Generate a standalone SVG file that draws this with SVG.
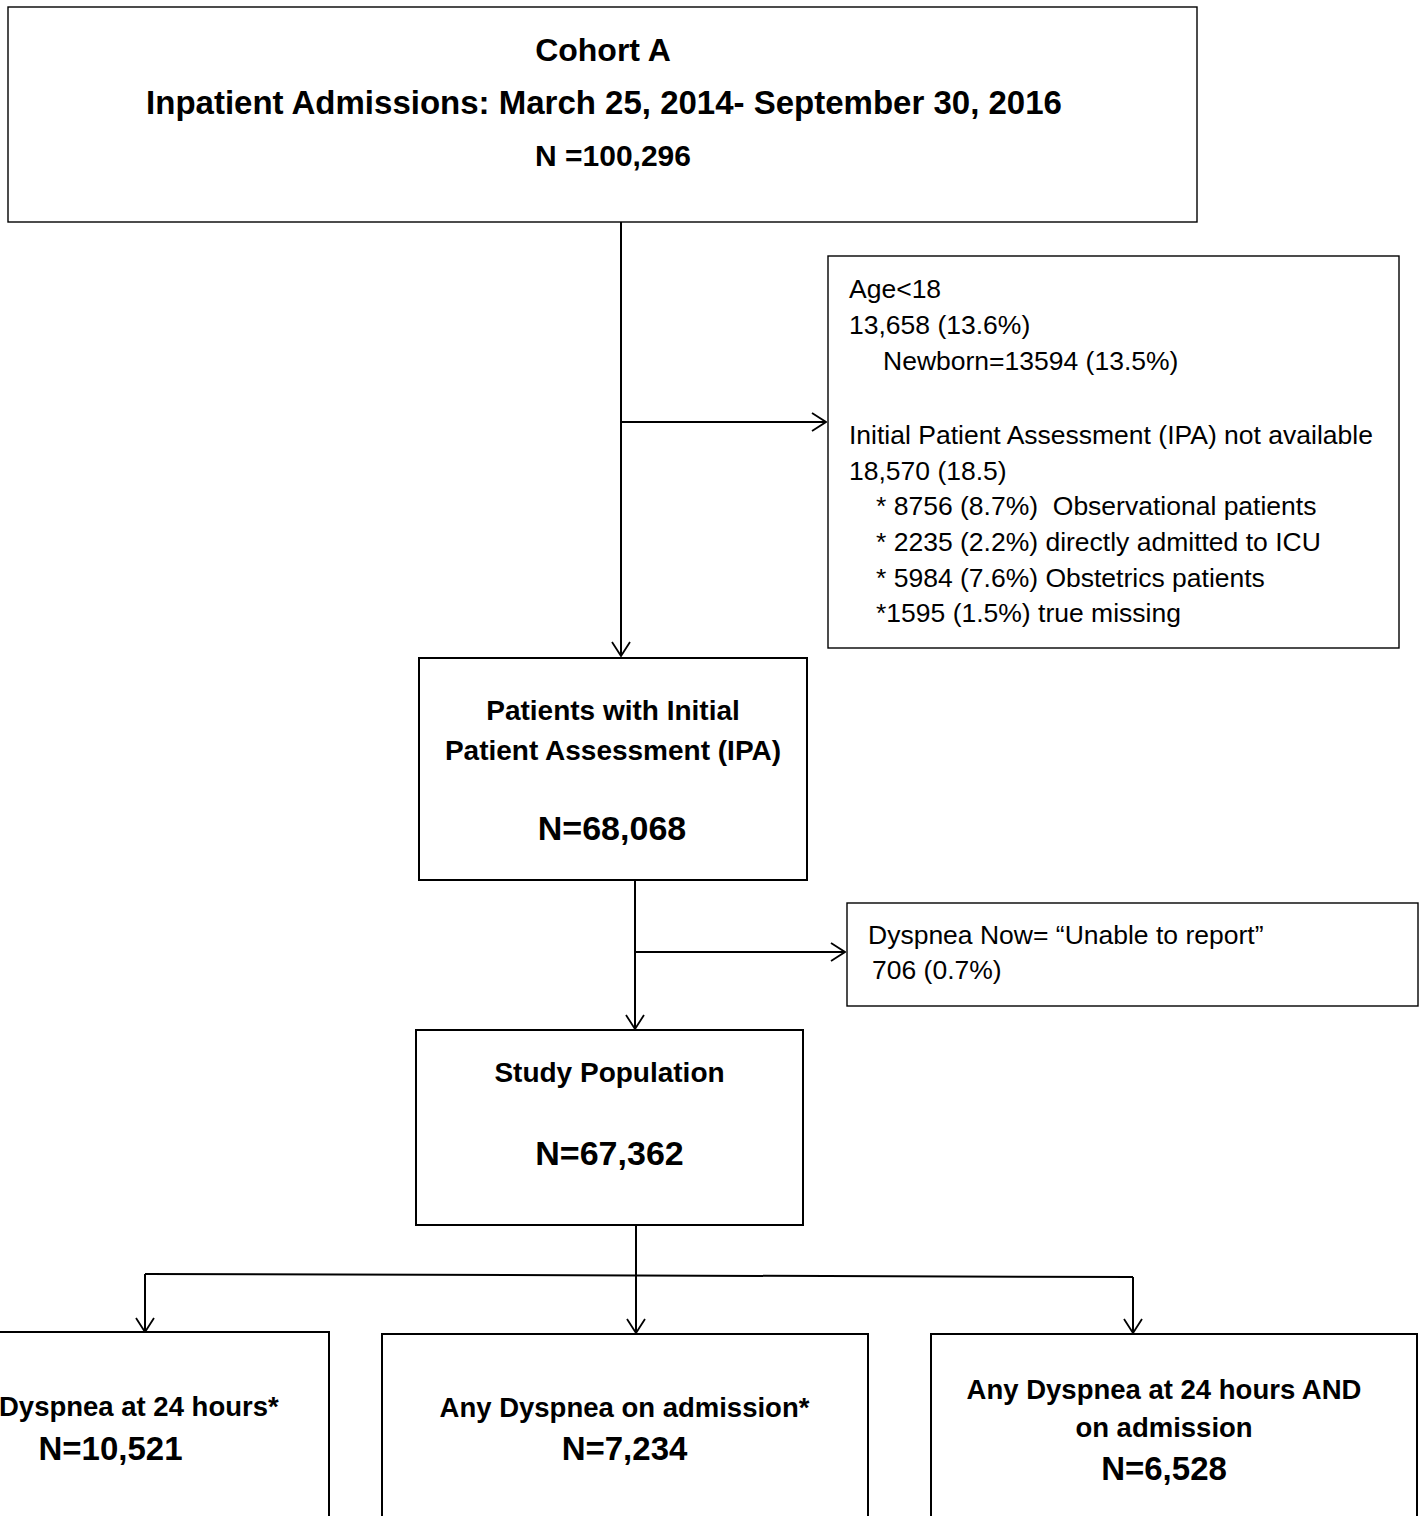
<svg xmlns="http://www.w3.org/2000/svg" width="1423" height="1516" viewBox="0 0 1423 1516">
<style>
.box{fill:#fff;stroke:#000;stroke-width:2}
.thin{stroke-width:1.4}
.b{font-family:"Liberation Sans",Arial,sans-serif;font-weight:bold;fill:#000}
.r{font-family:"Liberation Sans",Arial,sans-serif;fill:#000;font-size:26.5px}
.c{text-anchor:middle}
.ln{fill:none;stroke:#000;stroke-width:2}
</style>
<defs>
<marker id="arr" viewBox="0 0 16 20" refX="15" refY="10" markerWidth="16" markerHeight="20" markerUnits="userSpaceOnUse" orient="auto">
<path d="M1,1 L15,10 L1,19" fill="none" stroke="#000" stroke-width="1.8"/>
</marker>
</defs>
<rect width="1423" height="1516" fill="#fff"/>
<g id="connectors">
<path class="ln" d="M621,222 L621,656" marker-end="url(#arr)"/>
<path class="ln" d="M621,422 L826,422" marker-end="url(#arr)"/>
<path class="ln" d="M635,880 L635,1029" marker-end="url(#arr)"/>
<path class="ln" d="M635,952 L845,952" marker-end="url(#arr)"/>
<path class="ln" d="M636,1225 L636,1333" marker-end="url(#arr)"/>
<path class="ln" d="M145,1274 L1133,1277"/>
<path class="ln" d="M145,1274 L145,1332" marker-end="url(#arr)"/>
<path class="ln" d="M1133,1277 L1133,1333" marker-end="url(#arr)"/>
</g>
<g id="cohortA">
<rect class="box thin" x="8" y="7" width="1189" height="215"/>
<text class="b c" x="603" y="61" font-size="32">Cohort A</text>
<text class="b c" x="604" y="114" font-size="33">Inpatient Admissions: March 25, 2014- September 30, 2016</text>
<text class="b c" x="613" y="166" font-size="30">N =100,296</text>
</g>
<g id="exclusions1">
<rect class="box thin" x="828" y="256" width="571" height="392"/>
<text class="r" x="849" y="298">Age&lt;18</text>
<text class="r" x="849" y="334">13,658 (13.6%)</text>
<text class="r" x="883" y="370">Newborn=13594 (13.5%)</text>
<text class="r" x="849" y="444">Initial Patient Assessment (IPA) not available</text>
<text class="r" x="849" y="480">18,570 (18.5)</text>
<text class="r" x="876" y="515" xml:space="preserve">* 8756 (8.7%)  Observational patients</text>
<text class="r" x="876" y="551">* 2235 (2.2%) directly admitted to ICU</text>
<text class="r" x="876" y="587">* 5984 (7.6%) Obstetrics patients</text>
<text class="r" x="876" y="622">*1595 (1.5%) true missing</text>
</g>
<g id="ipa">
<rect class="box" x="419" y="658" width="388" height="222"/>
<text class="b c" x="613" y="720" font-size="28">Patients with Initial</text>
<text class="b c" x="613" y="760" font-size="28">Patient Assessment (IPA)</text>
<text class="b c" x="612" y="840" font-size="34">N=68,068</text>
</g>
<g id="exclusions2">
<rect class="box thin" x="847" y="903" width="571" height="103"/>
<text class="r" x="868" y="944" font-size="28">Dyspnea Now= “Unable to report”</text>
<text class="r" x="872" y="979" font-size="28">706 (0.7%)</text>
</g>
<g id="study">
<rect class="box" x="416" y="1030" width="387" height="195"/>
<text class="b c" x="609.5" y="1082" font-size="28">Study Population</text>
<text class="b c" x="609.5" y="1165" font-size="34">N=67,362</text>
</g>
<g id="dyspnea24">
<rect class="box" x="-120" y="1332" width="449" height="200"/>
<text class="b" x="-1" y="1416" font-size="27.5">Dyspnea at 24 hours*</text>
<text class="b c" x="110.5" y="1460" font-size="33">N=10,521</text>
</g>
<g id="dyspneaAdmission">
<rect class="box" x="382" y="1334" width="486" height="200"/>
<text class="b c" x="624.5" y="1417" font-size="27.5">Any Dyspnea on admission*</text>
<text class="b c" x="624.5" y="1460" font-size="33">N=7,234</text>
</g>
<g id="dyspneaBoth">
<rect class="box" x="931" y="1334" width="486" height="200"/>
<text class="b c" x="1164" y="1399" font-size="27.5">Any Dyspnea at 24 hours AND</text>
<text class="b c" x="1164" y="1437" font-size="27.5">on admission</text>
<text class="b c" x="1164" y="1480" font-size="33">N=6,528</text>
</g>
</svg>
